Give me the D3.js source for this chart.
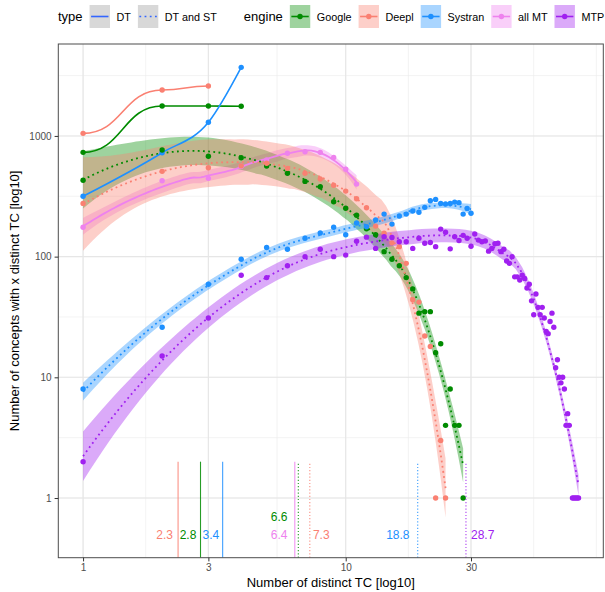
<!DOCTYPE html>
<html lang="en">
<head>
<meta charset="utf-8">
<title>Distinct TC per concept</title>
<script src="https://cdn.jsdelivr.net/npm/d3@7"></script>
<style>
  body { margin: 0; background: #fff; }
  svg text { font-family: "Liberation Sans", Arial, Helvetica, sans-serif; }
</style>
</head>
<body>
<svg id="chart" width="605" height="592"></svg>
<script>
// ---- values: [number of distinct TC, number of concepts] ----
const googleDT  = [[1,731],[2,1770],[3,1770],[4,1760]];
const deeplDT   = [[1,1050],[2,2400],[3,2590]];
const systranDT = [[1,316],[2,726],[3,1297],[4,3700]];
const allMtDT   = [[1,175],[2,425],[3,445],[4,560],[5,631],[6,718],[7,740],[8,731],[9,664],[10,529],[11,399]];

const googleST  = [[1,429],[2,764],[3,678],[4,660],[5,563],[6,490],[7,420],[8,379],[9,285],[10,252],[11,220],[12,170],
                   [13,152],[14,110],[15,95],[16,84],[17,67],[18,54],[19,34],[20,35],[21,35],[22,16],[23,19],[24,4],
                   [25,8],[26,4],[27,4],[28,1]];
const deeplST   = [[1,276],[2,509],[3,545],[4,565],[5,593],[6,539],[7,490],[8,440],[9,390],[10,349],[11,302],[12,254],
                   [13,179],[14,156],[15,130],[16,121],[17,88],[18,44],[19,42],[20,22],[21,18],[22,1],[23,3],[24,1]];
const systranST = [[1,8],[2,26],[3,59],[4,95],[5,119],[6,115],[7,142],[8,157],[9,175],[10,152],[11,190],[12,177],
                   [13,201],[14,225],[15,186],[16,217],[17,225],[18,239],[19,233],[20,256],[21,290],[22,298],[23,276],
                   [24,273],[25,276],[26,283],[27,280],[28,225],[29,251],[30,229]];
const mtpST     = [[1,2],[2,15],[3,31],[4,70],[5,67],[6,84],[7,100],[8,115],[9,100],[10,103],[11,134],[12,145],
                   [13,117],[14,146],[15,144],[16,133],[17,133],[18,117],[19,142],[20,129],[21,131],[22,121],[23,169],
                   [24,159],[25,116],[26,146],[27,136],[28,150],[29,142],[30,122],[31,154],[32,137],[33,133],[34,135],
                   [35,111],[36,117],[37,128],[38,129],[39,110],[40,115],[41,92],[42,88],[43,100],[44,68],[45,68],
                   [46,64],[47,70],[48,66],[49,55],[50,59],[51,43],[52,33],[53,49],[54,38],[55,33],[56,38],[57,31],
                   [58,24],[59,23],[60,29],[61,34],[62,26],[63,12],[64,14],[65,10],[66,9],[67,10],[68,8],[69,4],
                   [70,5],[71,4],[73,1],[74,1],[75,1],[76,1],[77,1]];

const engines = ["Google", "Deepl", "Systran", "all MT", "MTP"];
const types = ["DT", "DT and ST"];
const xTicks = [1, 3, 10, 30];
const yTicks = [1, 10, 100, 1000];

// mean number of distinct TC per engine / type
const meanValues  = [2.3, 2.8, 3.4, 6.4, 6.6, 7.3, 18.8, 28.7];
const meanEngines = ["Deepl", "Google", "Systran", "all MT", "Google", "Deepl", "Systran", "MTP"];
const meanTypes   = ["DT", "DT", "DT", "DT", "DT and ST", "DT and ST", "DT and ST", "DT and ST"];
// where the mean labels sit (data units)
const labelX      = [2.2, 2.7, 3.3, 6, 6, 7.5, 17.5, 30];
const labelY      = [0.5, 0.5, 0.5, 0.5, 0.7, 0.5, 0.5, 0.5];
const labelAnchor = ["end", "end", "end", "end", "end", "start", "end", "start"];
const meanTop = 2;

const series = [
  {engine: "Google",  type: "DT",        data: googleDT,  smooth: false},
  {engine: "Deepl",   type: "DT",        data: deeplDT,   smooth: false},
  {engine: "Systran", type: "DT",        data: systranDT, smooth: false},
  {engine: "all MT",  type: "DT",        data: allMtDT,   smooth: true},
  {engine: "Google",  type: "DT and ST", data: googleST,  smooth: true},
  {engine: "Deepl",   type: "DT and ST", data: deeplST,   smooth: true},
  {engine: "Systran", type: "DT and ST", data: systranST, smooth: true},
  {engine: "MTP",     type: "DT and ST", data: mtpST,     smooth: true}
];

// ---- styles ----
const colors = {"Google": "#008B00", "Deepl": "#FA8072", "Systran": "#1E90FF", "all MT": "#EE82EE", "MTP": "#A020F0"};
const dash = {"DT": null, "DT and ST": "1.8,3.4"};
const shortCurve = {"Google": d3.curveBumpX, "Deepl": d3.curveBumpX, "Systran": d3.curveMonotoneX};
const panel = {left: 58.3, right: 603.3, top: 44, bottom: 557.7};

const svg = d3.select('#chart');

function expandLog(lo, hi) {
  const a = Math.log10(lo), b = Math.log10(hi), e = 0.05 * (b - a);
  return [Math.pow(10, a - e), Math.pow(10, b + e)];
}
const allX = series.flatMap(s => s.data.map(d => d[0]));
const allY = series.flatMap(s => s.data.map(d => d[1])).concat(labelY);
const x = d3.scaleLog().domain(expandLog(d3.min(allX), d3.max(allX))).range([panel.left, panel.right]);
const y = d3.scaleLog().domain(expandLog(d3.min(allY), d3.max(allY))).range([panel.bottom, panel.top]);

// minor breaks the way ggplot puts them (midpoints in log space, one extra step past the ends)
function minorBreaks(major, domain) {
  const b = major.map(Math.log10);
  const lim = domain.map(Math.log10);
  const bd = b[1] - b[0];
  if (lim[0] < b[0]) b.unshift(b[0] - bd);
  if (lim[1] > b[b.length - 1]) b.push(b[b.length - 1] + bd);
  const out = [];
  for (let i = 0; i < b.length - 1; i++) out.push(b[i], (b[i] + b[i + 1]) / 2);
  out.push(b[b.length - 1]);
  return out.filter(v => v >= lim[0] && v <= lim[1]).map(v => Math.pow(10, v));
}

// t quantile (0.975) by Cornish-Fisher expansion
function qt975(df) {
  const z = 1.959964;
  const g1 = (Math.pow(z, 3) + z) / 4;
  const g2 = (5 * Math.pow(z, 5) + 16 * Math.pow(z, 3) + 3 * z) / 96;
  const g3 = (3 * Math.pow(z, 7) + 19 * Math.pow(z, 5) + 17 * Math.pow(z, 3) - 15 * z) / 384;
  const g4 = (79 * Math.pow(z, 9) + 776 * Math.pow(z, 7) + 1482 * Math.pow(z, 5) - 1920 * Math.pow(z, 3) - 945 * z) / 92160;
  return z + g1 / df + g2 / (df * df) + g3 / Math.pow(df, 3) + g4 / Math.pow(df, 4);
}

// local quadratic regression (loess, span .75, tricube) on log-log data, with 95% band
function loess(pts, span, nOut) {
  const xs = pts.map(p => Math.log10(p[0]));
  const ys = pts.map(p => Math.log10(p[1]));
  const n = xs.length;
  const q = Math.floor(n * span);
  function row(x0) {
    const u = xs.map(v => v - x0);
    const dist = u.map(Math.abs);
    const h = dist.slice().sort((a, b) => a - b)[q - 1];
    const w = dist.map(v => v < h ? Math.pow(1 - Math.pow(v / h, 3), 3) : 0);
    const s = [0, 0, 0, 0, 0];
    u.forEach((v, i) => {
      let p = w[i];
      for (let k = 0; k < 5; k++) { s[k] += p; p *= v; }
    });
    const c0 = s[2] * s[4] - s[3] * s[3];
    const c1 = s[3] * s[2] - s[1] * s[4];
    const c2 = s[1] * s[3] - s[2] * s[2];
    const det = s[0] * c0 + s[1] * c1 + s[2] * c2;
    return u.map((v, i) => w[i] * (c0 + c1 * v + c2 * v * v) / det);
  }
  const L = xs.map(row);
  const fitted = L.map(l => d3.sum(l, (v, i) => v * ys[i]));
  const rss = d3.sum(ys, (v, i) => (v - fitted[i]) * (v - fitted[i]));
  // B = I - L, M = B'B
  const B = L.map((r, i) => r.map((v, j) => (i === j ? 1 : 0) - v));
  const M = d3.range(n).map(i => d3.range(n).map(j => d3.sum(B, r => r[i] * r[j])));
  const one = d3.sum(M, (r, i) => r[i]);
  const two = d3.sum(M, r => d3.sum(r, v => v * v));
  const sd = Math.sqrt(rss / one);
  const t = qt975(one * one / two);
  const lo = d3.min(xs), hi = d3.max(xs);
  return d3.range(nOut).map(k => {
    const x0 = lo + k * (hi - lo) / (nOut - 1);
    const l = row(x0);
    const f = d3.sum(l, (v, i) => v * ys[i]);
    const se = sd * Math.sqrt(d3.sum(l, v => v * v));
    return {x: Math.pow(10, x0), y: Math.pow(10, f), ymin: Math.pow(10, f - t * se), ymax: Math.pow(10, f + t * se)};
  });
}

// ---- panel background and grid ----
svg.append('rect').attr('x', panel.left).attr('y', panel.top)
  .attr('width', panel.right - panel.left).attr('height', panel.bottom - panel.top)
  .attr('fill', '#fff');

const grid = svg.append('g');
grid.selectAll('.xminor').data(minorBreaks(xTicks, x.domain())).join('line')
  .attr('x1', d => x(d)).attr('x2', d => x(d)).attr('y1', panel.top).attr('y2', panel.bottom)
  .attr('stroke', '#ebebeb').attr('stroke-width', 0.6);
grid.selectAll('.yminor').data(minorBreaks(yTicks, y.domain())).join('line')
  .attr('y1', d => y(d)).attr('y2', d => y(d)).attr('x1', panel.left).attr('x2', panel.right)
  .attr('stroke', '#ebebeb').attr('stroke-width', 0.6);
grid.selectAll('.xmajor').data(xTicks).join('line')
  .attr('x1', d => x(d)).attr('x2', d => x(d)).attr('y1', panel.top).attr('y2', panel.bottom)
  .attr('stroke', '#e6e6e6').attr('stroke-width', 1.1);
grid.selectAll('.ymajor').data(yTicks).join('line')
  .attr('y1', d => y(d)).attr('y2', d => y(d)).attr('x1', panel.left).attr('x2', panel.right)
  .attr('stroke', '#e6e6e6').attr('stroke-width', 1.1);

svg.append('clipPath').attr('id', 'clip').append('rect')
  .attr('x', panel.left).attr('y', panel.top)
  .attr('width', panel.right - panel.left).attr('height', panel.bottom - panel.top);
const plot = svg.append('g').attr('clip-path', 'url(#clip)');

// ---- smooths ----
const fits = series.filter(s => s.smooth).map(s => ({s: s, fit: loess(s.data, 0.75, 80)}));

const area = d3.area().x(d => x(d.x)).y0(d => y(d.ymin)).y1(d => y(d.ymax));
const fitLine = d3.line().x(d => x(d.x)).y(d => y(d.y));

plot.selectAll('.band').data(fits).join('path')
  .attr('d', d => area(d.fit))
  .attr('fill', d => colors[d.s.engine]).attr('fill-opacity', 0.38);

plot.selectAll('.fit').data(fits).join('path')
  .attr('d', d => fitLine(d.fit))
  .attr('fill', 'none').attr('stroke', d => colors[d.s.engine])
  .attr('stroke-width', 1.8).attr('stroke-dasharray', d => dash[d.s.type]);

plot.selectAll('.short').data(series.filter(s => !s.smooth)).join('path')
  .attr('d', s => d3.line().x(d => x(d[0])).y(d => y(d[1])).curve(shortCurve[s.engine])(s.data))
  .attr('fill', 'none').attr('stroke', s => colors[s.engine])
  .attr('stroke-width', 1.6).attr('stroke-dasharray', s => dash[s.type]);

// ---- points ----
series.forEach(s => {
  plot.append('g').selectAll('circle').data(s.data).join('circle')
    .attr('cx', d => x(d[0])).attr('cy', d => y(d[1])).attr('r', 2.7)
    .attr('fill', colors[s.engine]);
});

// ---- means ----
plot.selectAll('.mean').data(meanValues).join('line')
  .attr('x1', d => x(d)).attr('x2', d => x(d))
  .attr('y1', panel.bottom).attr('y2', y(meanTop))
  .attr('stroke', (d, i) => colors[meanEngines[i]]).attr('stroke-width', 1.1)
  .attr('stroke-dasharray', (d, i) => meanTypes[i] === 'DT' ? null : '1.2,2')
  .attr('opacity', 0.85);

plot.selectAll('.meanlab').data(meanValues).join('text')
  .attr('x', (d, i) => x(labelX[i])).attr('y', (d, i) => y(labelY[i]))
  .attr('dy', '0.36em').attr('text-anchor', (d, i) => labelAnchor[i])
  .attr('font-size', 12).attr('fill', (d, i) => colors[meanEngines[i]])
  .text(d => d3.format('.1f')(d));

// ---- border and axes ----
svg.append('rect').attr('x', panel.left).attr('y', panel.top)
  .attr('width', panel.right - panel.left).attr('height', panel.bottom - panel.top)
  .attr('fill', 'none').attr('stroke', '#4d4d4d').attr('stroke-width', 1);

const xAxis = svg.append('g').attr('transform', `translate(0,${panel.bottom})`)
  .call(d3.axisBottom(x).tickValues(xTicks).tickFormat(d3.format('d')).tickSizeOuter(0).tickSize(3.7).tickPadding(3));
const yAxis = svg.append('g').attr('transform', `translate(${panel.left},0)`)
  .call(d3.axisLeft(y).tickValues(yTicks).tickFormat(d3.format('d')).tickSizeOuter(0).tickSize(3.7).tickPadding(3));
[xAxis, yAxis].forEach(a => {
  a.select('.domain').remove();
  a.selectAll('.tick line').attr('stroke', '#333');
  a.selectAll('.tick text').attr('fill', '#4d4d4d').attr('font-size', 10)
    .attr('font-family', '"Liberation Sans", Arial, sans-serif');
});

svg.append('text').attr('x', (panel.left + panel.right) / 2).attr('y', 587)
  .attr('text-anchor', 'middle').attr('font-size', 13).text('Number of distinct TC [log10]');
svg.append('text').attr('transform', `translate(19,${(panel.top + panel.bottom) / 2}) rotate(-90)`)
  .attr('text-anchor', 'middle').attr('font-size', 13).text('Number of concepts with x distinct TC [log10]');

// ---- legend ----
const leg = svg.append('g');
const keyW = 20.4, keyH = 23, keyY = 5, textY = 21;
let cx = 58;
function legText(str, size) {
  const t = leg.append('text').attr('x', cx).attr('y', textY).attr('font-size', size).text(str);
  return t.node().getComputedTextLength();
}
cx += legText('type', 13) + 7;
types.forEach(t => {
  leg.append('rect').attr('x', cx).attr('y', keyY).attr('width', keyW).attr('height', keyH)
    .attr('fill', '#999').attr('fill-opacity', 0.38);
  leg.append('line').attr('x1', cx + 1.5).attr('x2', cx + keyW - 1.5)
    .attr('y1', keyY + keyH / 2).attr('y2', keyY + keyH / 2)
    .attr('stroke', '#3366FF').attr('stroke-width', 1.6).attr('stroke-dasharray', dash[t]);
  cx += keyW + 6.5;
  cx += legText(t, 10.8) + 7;
});
cx += 20;
cx += legText('engine', 13) + 7;
engines.forEach(e => {
  leg.append('rect').attr('x', cx).attr('y', keyY).attr('width', keyW).attr('height', keyH)
    .attr('fill', colors[e]).attr('fill-opacity', 0.38);
  leg.append('line').attr('x1', cx + 1.5).attr('x2', cx + keyW - 1.5)
    .attr('y1', keyY + keyH / 2).attr('y2', keyY + keyH / 2)
    .attr('stroke', colors[e]).attr('stroke-width', 1.6);
  leg.append('circle').attr('cx', cx + keyW / 2).attr('cy', keyY + keyH / 2).attr('r', 2.7)
    .attr('fill', colors[e]);
  cx += keyW + 6.5;
  cx += legText(e, 10.8) + 7;
});
</script>
</body>
</html>
